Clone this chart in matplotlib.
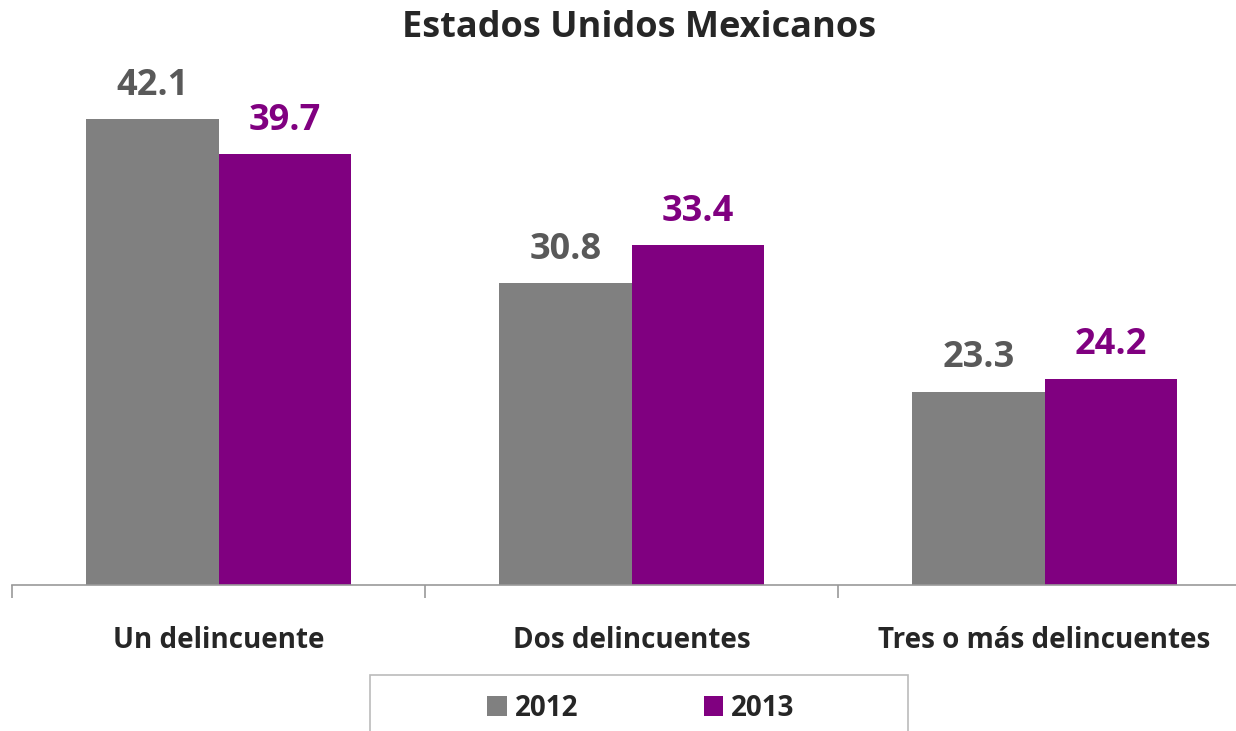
import matplotlib.pyplot as plt
import numpy as np
from matplotlib.patches import Rectangle

plt.rcParams['font.family'] = ['Open Sans', 'DejaVu Sans']

# Data
categories = ['Un delincuente', 'Dos delincuentes', 'Tres o más delincuentes']
years = ['2012', '2013']
values_2012 = [42.1, 30.8, 23.3]
values_2013 = [39.7, 33.4, 24.2]

gray = '#808080'
purple = '#800080'

fig = plt.figure(figsize=(12.36, 7.31), dpi=100)
ax = fig.add_axes([12 / 1236, (731 - 584.5) / 731, 1239 / 1236, 580 / 731])

x = np.arange(len(categories))
w = 0.32
b1 = ax.bar(x - w / 2, np.array(values_2012) - 10, w, bottom=10, color=gray, label=years[0])
b2 = ax.bar(x + w / 2, np.array(values_2013) - 10, w, bottom=10, color=purple, label=years[1])

ax.set_xlim(-0.5, 2.5)
ax.set_ylim(10, 50)

# Value labels
for bars, vals, col in [(b1, values_2012, '#595959'), (b2, values_2013, purple)]:
    for bar, v in zip(bars, vals):
        ax.annotate(f'{v:.1f}', (bar.get_x() + bar.get_width() / 2, v),
                    xytext=(0, 11), textcoords='offset points',
                    ha='center', va='bottom', fontsize=26, fontweight='bold', color=col)

# Axes styling
for s in ['top', 'right', 'left']:
    ax.spines[s].set_visible(False)
ax.spines['bottom'].set_color('#999999')
ax.spines['bottom'].set_linewidth(1.2)
ax.set_yticks([])
ax.set_xticks(x)
ax.set_xticklabels(categories, fontsize=20, fontweight='bold', color='#262626')
ax.tick_params(axis='x', which='major', length=0, pad=30)
ax.set_xticks([-0.5, 0.5, 1.5, 2.5], minor=True)
ax.tick_params(axis='x', which='minor', length=9, color='#999999', width=1.2)

fig.text(0.517, 0.962, 'Estados Unidos Mexicanos', ha='center', va='center',
         fontsize=26, fontweight='bold', color='#262626')

# Legend frame (box runs off the bottom of the figure)
fig.patches.append(Rectangle((370 / 1236, -0.05), 538 / 1236, 0.05 + 56 / 731,
                             transform=fig.transFigure, fill=False,
                             edgecolor='#bbbbbb', linewidth=1.2))

leg = fig.legend(loc='center', bbox_to_anchor=(641 / 1236, 1 - 708 / 731), ncol=2,
                 frameon=False, fontsize=20,
                 handlelength=0.7, handleheight=0.7, handletextpad=0.3,
                 columnspacing=4.5, borderaxespad=0)
for t in leg.get_texts():
    t.set_fontweight('bold')
    t.set_color('#262626')

fig.savefig('out.png', dpi=100)
